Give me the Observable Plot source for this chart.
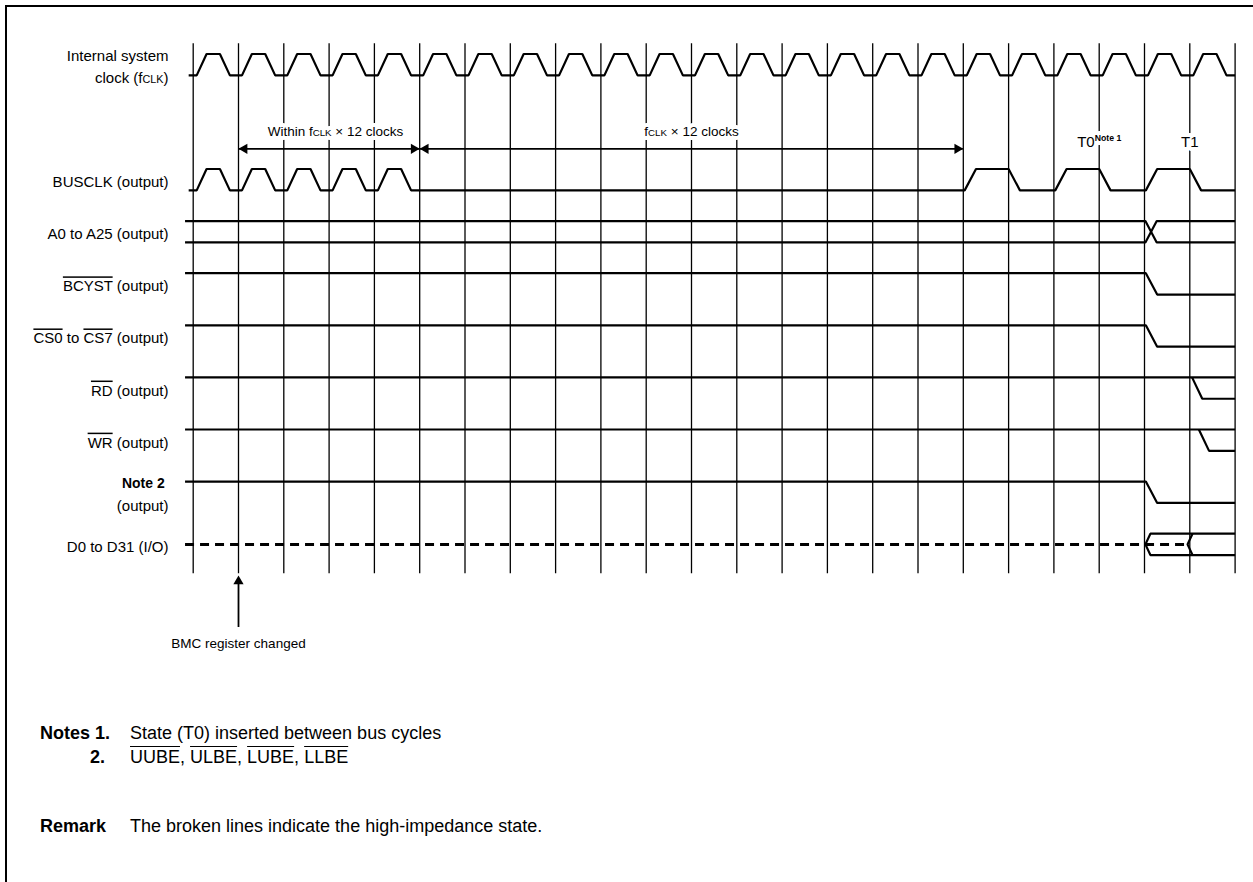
<!DOCTYPE html>
<html>
<head>
<meta charset="utf-8">
<script src="https://cdn.jsdelivr.net/npm/d3@7"></script>
<script src="https://cdn.jsdelivr.net/npm/@observablehq/plot@0.6"></script>
<style>
  html, body { margin: 0; padding: 0; background: #fff; overflow: hidden; }
  body { width: 1253px; height: 882px; position: relative; font-family: "Liberation Sans", Arial, Helvetica, sans-serif; color: #000; }
  #frame { position: absolute; left: 5px; top: 5px; width: 1400px; height: 1000px; border-left: 2px solid #000; border-top: 2px solid #000; }
  #chart { position: absolute; left: 0; top: 0; }
  .note { position: absolute; font-size: 18px; line-height: 20px; white-space: nowrap; }
  .note .head { position: absolute; font-weight: bold; text-align: right; }
  .note .body { position: absolute; }
</style>
</head>
<body>
<div id="frame"></div>
<div id="chart"></div>
<div id="notes"></div>
<script>
// ---------------- data ----------------
const clockEdges = [0,1,2,3,4,5,6,7,8,9,10,11,12,13,14,15,16,17,18,19,20,21,22,23];
const fclkPulses = [0,1,2,3,4,5,6,7,8,9,10,11,12,13,14,15,16,17,18,19,20,21,22];
const busclkFastPulses = [0,1,2,3,4];
const busclkSlowPulses = [17,19,21];
const signalKeys = ["fclk","busclk","addr","bcyst","cs","rd","wr","be","data"];
const signalLabels = [
  "Internal system\nclock (f[s]CLK[/s])",
  "BUSCLK (output)",
  "A0 to A25 (output)",
  "[o]BCYST[/o] (output)",
  "[o]CS0[/o] to [o]CS7[/o] (output)",
  "[o]RD[/o] (output)",
  "[o]WR[/o] (output)",
  "[b]Note 2\u00a0[/b]\n(output)",
  "D0 to D31 (I/O)"
];
const addrChangeAt = 21.02;
const strobeKeys = ["bcyst","cs","rd","wr","be"];
const strobeFallAt = [21.03, 21.03, 22.05, 22.2, 21.03];
const strobeKeepsHigh = [false, false, true, true, false];
const dataDriveAt = 21.02;
const dataValidAt = 21.95;
const spanFrom = [1, 5];
const spanTo = [5, 17];
const spanLabelAt = [3.14, 11];
const spanLabels = ["Within f[s]CLK[/s] × 12 clocks", "f[s]CLK[/s] × 12 clocks"];
const stateAt = [20, 22];
const stateLabels = ["T0[sup]Note 1[/sup]", "T1"];
const eventAt = [1];
const eventLabels = ["BMC register changed"];
const noteHeads = ["Notes 1.", "2.", "Remark"];
const noteBodies = [
  "State (T0) inserted between bus cycles",
  "[o]UUBE[/o], [o]ULBE[/o], [o]LUBE[/o], [o]LLBE[/o]",
  "The broken lines indicate the high-impedance state."
];

// ---------------- layout / style ----------------
const W = 1253, H = 670;
const X0 = 192.7, DX = 45.3;      // pixel of clock edge 0, pixels per clock
const Y0 = 168.5, DY = 52.1;      // pixel of lane 0 top, pixels per lane
const laneOf = {fclk: -2.207, busclk: 0, addr: 1, bcyst: 2, cs: 3, rd: 4, wr: 5, be: 6, data: 7};
const AMP = 0.41;
const START = -0.1, BUS_START = -0.18, END = 23;
const R0 = 0.077, R1 = 0.295, F0 = 0.59, F1 = 0.81;
const SR0 = 0.03, SR1 = 0.28, SF0 = 1.0, SF1 = 1.25;
const EDGE = 0.25, OPEN = 0.11;
const GRID_TOP = -2.403, GRID_BOT = 7.77;
const ARROW_Y = -0.388, SPAN_LABEL_Y = -0.71, STATE_Y = -0.514;
const EVENT_TIP = 7.802, EVENT_TAIL = 8.8, EVENT_LABEL_Y = 9.107;
const LABEL_X = -0.545, LABEL_DY = 0.21;

const hi = k => laneOf[k], lo = k => laneOf[k] + AMP, mid = k => laneOf[k] + AMP / 2;

const solid = [];
const dashed = [];
function addPath(store, id, pts) { for (const [t, y] of pts) store.push({id, t, y}); }

// internal clock
{
  const pts = [[START, lo("fclk")]];
  for (const p of fclkPulses) pts.push([p + R0, lo("fclk")], [p + R1, hi("fclk")], [p + F0, hi("fclk")], [p + F1, lo("fclk")]);
  pts.push([END, lo("fclk")]);
  addPath(solid, "fclk", pts);
}
// BUSCLK
{
  const k = "busclk";
  const pts = [[START, lo(k)]];
  for (const p of busclkFastPulses) pts.push([p + R0, lo(k)], [p + R1, hi(k)], [p + F0, hi(k)], [p + F1, lo(k)]);
  for (const p of busclkSlowPulses) pts.push([p + SR0, lo(k)], [p + SR1, hi(k)], [p + SF0, hi(k)], [p + SF1, lo(k)]);
  pts.push([END, lo(k)]);
  addPath(solid, k, pts);
}
// address bus
addPath(solid, "addrA", [[BUS_START, hi("addr")], [addrChangeAt, hi("addr")], [addrChangeAt + EDGE, lo("addr")], [END, lo("addr")]]);
addPath(solid, "addrB", [[BUS_START, lo("addr")], [addrChangeAt, lo("addr")], [addrChangeAt + EDGE, hi("addr")], [END, hi("addr")]]);
// strobes
strobeKeys.forEach((k, i) => {
  const f = strobeFallAt[i];
  if (strobeKeepsHigh[i]) {
    addPath(solid, k + "H", [[BUS_START, hi(k)], [END, hi(k)]]);
    addPath(solid, k + "L", [[f, hi(k)], [f + EDGE * 0.9, lo(k)], [END, lo(k)]]);
  } else {
    addPath(solid, k, [[BUS_START, hi(k)], [f, hi(k)], [f + EDGE, lo(k)], [END, lo(k)]]);
  }
});
// data bus
addPath(dashed, "dataZ", [[BUS_START, mid("data")], [dataValidAt, mid("data")]]);
addPath(solid, "dataU", [[dataDriveAt, mid("data")], [dataDriveAt + OPEN, hi("data")], [END, hi("data")]]);
addPath(solid, "dataL", [[dataDriveAt, mid("data")], [dataDriveAt + OPEN, lo("data")], [END, lo("data")]]);
addPath(solid, "dataV", [[dataValidAt + OPEN, hi("data")], [dataValidAt, mid("data")], [dataValidAt + OPEN, lo("data")]]);

const labelRows = signalKeys.map((k, i) => ({text: signalLabels[i], y: laneOf[k] + LABEL_DY}));
const spans = spanFrom.map((f, i) => ({from: f, to: spanTo[i], at: spanLabelAt[i], text: spanLabels[i]}));
const states = stateAt.map((t, i) => ({t, text: stateLabels[i]}));
const events = eventAt.map((t, i) => ({t, text: eventLabels[i]}));

const FONT = "'Liberation Sans', Arial, Helvetica, sans-serif";
const HEAD_R = 3.8, HEAD_OFF = 5.9;
const HALO = {fill: "white", stroke: "white", strokeWidth: 8, strokeLinejoin: "round"};

const plot = Plot.plot({
  width: W, height: H,
  margin: 0,
  x: {type: "linear", domain: [(0 - X0) / DX, (W - X0) / DX], range: [0, W], axis: null},
  y: {type: "linear", domain: [(0 - Y0) / DY, (H - Y0) / DY], range: [0, H], axis: null},
  style: {background: "transparent", overflow: "visible", fontFamily: FONT, color: "#000"},
  marks: [
    Plot.ruleX(clockEdges, {x: d => d, y1: GRID_TOP, y2: GRID_BOT, stroke: "#000", strokeWidth: 1.3}),
    Plot.line(dashed, {x: "t", y: "y", z: "id", stroke: "#000", strokeWidth: 3, strokeDasharray: "9,6", strokeLinecap: "butt"}),
    Plot.line(solid, {x: "t", y: "y", z: "id", stroke: "#000", strokeWidth: 2.2, strokeLinejoin: "miter", strokeLinecap: "butt"}),
    // span arrows
    Plot.ruleY(spans, {x1: "from", x2: "to", y: ARROW_Y, stroke: "#000", strokeWidth: 1.8}),
    Plot.dot(spans, {x: "from", y: ARROW_Y, symbol: "triangle", r: HEAD_R, rotate: -90, dx: HEAD_OFF, fill: "#000", stroke: "none"}),
    Plot.dot(spans, {x: "to", y: ARROW_Y, symbol: "triangle", r: HEAD_R, rotate: 90, dx: -HEAD_OFF, fill: "#000", stroke: "none"}),
    // label halos (drawn first so they never cover glyphs)
    Plot.text(spans, {x: "at", y: SPAN_LABEL_Y, text: "text", fontSize: 13.5, textAnchor: "middle", ...HALO}),
    Plot.text(states, {x: "t", y: STATE_Y, text: "text", fontSize: 15, textAnchor: "middle", ...HALO}),
    Plot.text(spans, {x: "at", y: SPAN_LABEL_Y, text: "text", fontSize: 13.5, fill: "#000", textAnchor: "middle"}),
    Plot.text(states, {x: "t", y: STATE_Y, text: "text", fontSize: 15, fill: "#000", textAnchor: "middle"}),
    // event arrow
    Plot.ruleX(events, {x: "t", y1: EVENT_TIP + 0.15, y2: EVENT_TAIL, stroke: "#000", strokeWidth: 1.8}),
    Plot.dot(events, {x: "t", y: EVENT_TIP, symbol: "triangle", r: HEAD_R, rotate: 0, dy: HEAD_OFF, fill: "#000", stroke: "none"}),
    Plot.text(events, {x: "t", y: EVENT_LABEL_Y, text: "text", fontSize: 13.5, fill: "#000", textAnchor: "middle"}),
    // signal names
    Plot.text(labelRows, {x: LABEL_X, y: "y", text: "text", fontSize: 15, fill: "#000", textAnchor: "end", lineHeight: 1.5})
  ]
});

// ---------- rich text (overline, small caps, superscript, bold) ----------
const SVGNS = "http://www.w3.org/2000/svg";
const TOKEN = /\[(o|s|b|sup)\]([\s\S]*?)\[\/\1\]/g;
function richSvg(el) {
  const s = el.textContent;
  el.textContent = "";
  let last = 0, m;
  TOKEN.lastIndex = 0;
  while ((m = TOKEN.exec(s))) {
    if (m.index > last) el.appendChild(document.createTextNode(s.slice(last, m.index)));
    const t = document.createElementNS(SVGNS, "tspan");
    t.textContent = m[2];
    if (m[1] === "o") t.setAttribute("style", "text-decoration: overline");
    if (m[1] === "s") t.setAttribute("style", "font-size: 72%");
    if (m[1] === "b") t.setAttribute("style", "font-weight: bold; font-size: 93%");
    if (m[1] === "sup") { t.setAttribute("style", "font-size: 58%; font-weight: bold"); t.setAttribute("dy", "-6"); }
    el.appendChild(t);
    last = TOKEN.lastIndex;
  }
  if (last < s.length) el.appendChild(document.createTextNode(s.slice(last)));
}
Array.from(plot.querySelectorAll("text, tspan"))
  .filter(e => e.children.length === 0 && e.textContent.includes("["))
  .forEach(richSvg);
document.getElementById("chart").appendChild(plot);

function richHtml(el, s) {
  let last = 0, m;
  TOKEN.lastIndex = 0;
  while ((m = TOKEN.exec(s))) {
    if (m.index > last) el.appendChild(document.createTextNode(s.slice(last, m.index)));
    const t = document.createElement("span");
    t.textContent = m[2];
    if (m[1] === "o") t.style.textDecoration = "overline";
    el.appendChild(t);
    last = TOKEN.lastIndex;
  }
  if (last < s.length) el.appendChild(document.createTextNode(s.slice(last)));
}
const noteTops = [723, 747, 816];
const notes = document.getElementById("notes");
noteHeads.forEach((h, i) => {
  const row = document.createElement("div");
  row.className = "note";
  row.style.top = noteTops[i] + "px";
  row.style.left = "0px";
  const head = document.createElement("span");
  head.className = "head";
  head.textContent = h;
  if (i === 1) { head.style.left = "40px"; head.style.width = "65px"; }
  else { head.style.left = "40px"; head.style.textAlign = "left"; }
  const body = document.createElement("span");
  body.className = "body";
  body.style.left = "130px";
  richHtml(body, noteBodies[i]);
  row.appendChild(head);
  row.appendChild(body);
  notes.appendChild(row);
});
</script>
</body>
</html>
